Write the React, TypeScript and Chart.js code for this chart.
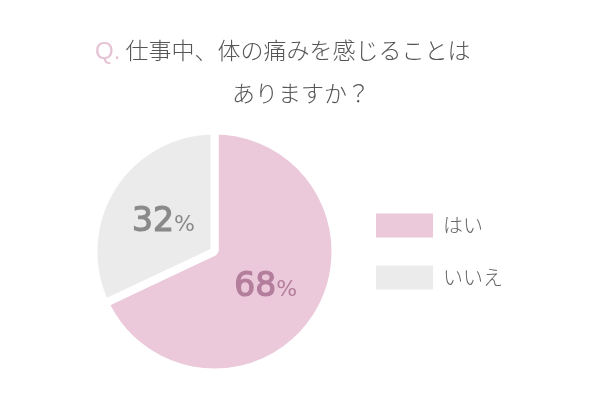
import { useEffect, useRef } from 'react';
import { Chart, registerables } from 'chart.js';

Chart.register(...registerables);

const labels = ['はい', 'いいえ'];
const values = [68, 32];
const sliceColors = ['#ebc8da', '#ebebeb'];
const labelColors = ['#b37e9c', '#8a8a8a'];

const jpFont = '"Noto Sans CJK JP", "Noto Sans", sans-serif';

// draws "68%" style text at the middle of each slice
const sliceLabels = {
    id: 'sliceLabels',
    afterDatasetsDraw(chart: any) {
        const ctx = chart.ctx;
        const meta = chart.getDatasetMeta(0);
        meta.data.forEach((arc: any, i: number) => {
            const { x, y } = arc.tooltipPosition(false);
            const num = String(values[i]);
            ctx.save();
            ctx.font = '33px "DejaVu Sans"';
            const w1 = ctx.measureText(num).width;
            ctx.font = '22px "DejaVu Sans"';
            const w2 = ctx.measureText('%').width;
            const left = x - (w1 + w2) / 2;
            const base = y + 12;
            ctx.fillStyle = labelColors[i];
            ctx.strokeStyle = labelColors[i];
            ctx.textBaseline = 'alphabetic';
            ctx.textAlign = 'left';
            ctx.font = '33px "DejaVu Sans"';
            ctx.lineWidth = 1.2;
            ctx.fillText(num, left, base);
            ctx.strokeText(num, left, base);
            ctx.font = '22px "DejaVu Sans"';
            ctx.fillText('%', left + w1, base);
            ctx.restore();
        });
    },
};

const PieChart = () => {
    const chartRef = useRef<HTMLCanvasElement | null>(null);
    const chartInstance = useRef<Chart<'pie', number[], string> | null>(null);

    useEffect(() => {
        if (chartRef.current) {
            if (chartInstance.current) {
                chartInstance.current.destroy();
            }

            const defaultLabels = Chart.overrides.pie.plugins.legend.labels.generateLabels;

            chartInstance.current = new Chart(chartRef.current, {
                type: 'pie',
                data: {
                    labels: labels,
                    datasets: [{
                        data: values,
                        backgroundColor: sliceColors,
                        borderColor: '#ffffff',
                        borderWidth: 8,
                        hoverOffset: 0,
                    }],
                },
                options: {
                    animation: false,
                    responsive: true,
                    maintainAspectRatio: false,
                    layout: {
                        padding: { left: 81, top: 126.5, bottom: 23.5, right: 87 },
                    },
                    plugins: {
                        legend: {
                            position: 'right',
                            labels: {
                                boxWidth: 57,
                                boxHeight: 24,
                                padding: 28,
                                color: '#666666',
                                font: { family: jpFont, size: 20, weight: 300 },
                                // no white border round the legend boxes
                                generateLabels: (chart: any) =>
                                    defaultLabels(chart).map((item: any) => ({ ...item, lineWidth: 0 })),
                            },
                        },
                        tooltip: { enabled: false },
                    },
                },
                plugins: [sliceLabels],
            });
        }

        return () => {
            if (chartInstance.current) {
                chartInstance.current.destroy();
            }
        };
    }, []);

    return (
        <div style={{ position: 'absolute', left: 0, top: 0, width: 600, height: 400, background: '#ffffff' }}>
            <div style={{ position: 'absolute', left: 95, top: 38, fontFamily: jpFont, fontSize: 23, lineHeight: '23px', fontWeight: 300, color: '#555555', whiteSpace: 'nowrap' }}>
                <span style={{ color: '#e6c3d4', fontFamily: '"Liberation Sans", sans-serif', fontSize: 24 }}>Q.</span> 仕事中、体の痛みを感じることは
            </div>
            <div style={{ position: 'absolute', left: 232, top: 81, fontFamily: jpFont, fontSize: 23, lineHeight: '23px', fontWeight: 300, color: '#555555', whiteSpace: 'nowrap' }}>
                ありますか？
            </div>
            <canvas ref={chartRef}></canvas>
        </div>
    );
};

export default function App() {
    return <PieChart />;
}
